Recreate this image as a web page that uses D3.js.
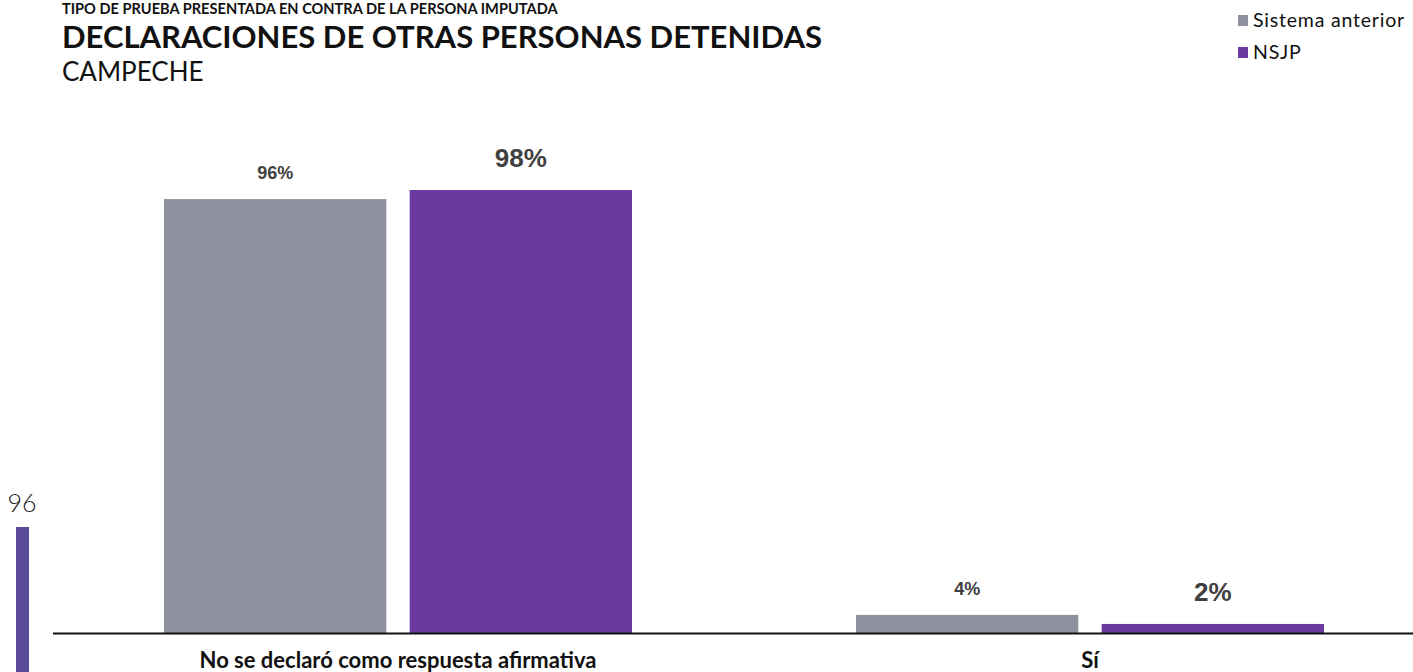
<!DOCTYPE html>
<html><head><meta charset="utf-8">
<script src="https://cdn.jsdelivr.net/npm/d3@7"></script>
<style>body{margin:0;background:#fff}svg{display:block}</style>
</head><body><svg id="c" width="1413" height="672"></svg>
<script>
const categories = ["No se declaró como respuesta afirmativa", "Sí"];
const seriesNames = ["Sistema anterior", "NSJP"];
const sistemaAnterior = [96, 4];
const nsjp = [98, 2];
const colors = ["#8e929e", "#6a3a9e"];

const svg = d3.select("#c");
const baseY = 633;
const y = d3.scaleLinear().domain([0, 100]).range([baseY, baseY - 452]);
const x0 = d3.scaleBand().domain(categories).range([52, 1436]).paddingInner(0).paddingOuter(0);
const x1 = d3.scaleBand().domain(seriesNames).range([112, 580]).paddingInner(0.095).paddingOuter(0);

const data = categories.map((c, i) => ({cat: c, vals: [sistemaAnterior[i], nsjp[i]]}));

// stray fragment
svg.append("text").attr("x", 22).attr("y", 512).attr("text-anchor", "middle")
  .attr("font-family", "Lato").attr("font-weight", 300).attr("font-size", 25).attr("fill", "#222").text("96");
svg.append("rect").attr("x", 16).attr("y", 527).attr("width", 13).attr("height", 145).attr("fill", "#5b4a9a");

const g = svg.selectAll("g.grp").data(data).enter().append("g")
  .attr("transform", d => `translate(${x0(d.cat)},0)`);
g.selectAll("rect").data(d => d.vals.map((v, j) => ({v, j}))).enter().append("rect")
  .attr("x", d => x1(seriesNames[d.j]))
  .attr("width", x1.bandwidth())
  .attr("y", d => y(d.v))
  .attr("height", d => baseY - y(d.v))
  .attr("fill", d => colors[d.j]);
g.selectAll("text.val").data(d => d.vals.map((v, j) => ({v, j}))).enter().append("text")
  .attr("x", d => x1(seriesNames[d.j]) + x1.bandwidth() / 2)
  .attr("y", d => y(d.v) - (d.j === 0 ? 20 : 23))
  .attr("text-anchor", "middle")
  .attr("font-family", "Liberation Sans, Arial").attr("font-weight", "bold")
  .attr("font-size", d => d.j === 0 ? 18 : 26)
  .attr("fill", "#404040")
  .text(d => d.v + "%");

svg.append("line").attr("x1", 53).attr("x2", 1413).attr("y1", baseY + 0.5).attr("y2", baseY + 0.5)
  .attr("stroke", "#111").attr("stroke-width", 2);

svg.selectAll("text.cat").data(categories).enter().append("text")
  .attr("x", d => x0(d) + x0.bandwidth() / 2).attr("y", 668)
  .attr("text-anchor", "middle").attr("font-family", "Lato").attr("font-weight", "bold")
  .attr("font-size", 22).attr("fill", "#111").text(d => d);

// titles
svg.append("text").attr("x", 62).attr("y", 13.5).attr("font-family", "Lato").attr("font-weight", "bold")
  .attr("font-size", 14.6).attr("fill", "#111").text("TIPO DE PRUEBA PRESENTADA EN CONTRA DE LA PERSONA IMPUTADA");
svg.append("text").attr("x", 62).attr("y", 47.5).attr("font-family", "Lato").attr("font-weight", "bold")
  .attr("font-size", 31).attr("fill", "#111").text("DECLARACIONES DE OTRAS PERSONAS DETENIDAS");
svg.append("text").attr("x", 62).attr("y", 81).attr("font-family", "Lato")
  .attr("font-size", 26).attr("fill", "#111").text("CAMPECHE");

// legend
const lg = svg.selectAll("g.leg").data(seriesNames).enter().append("g")
  .attr("transform", (d, i) => `translate(1238,${15 + i * 32})`);
lg.append("rect").attr("width", 10).attr("height", 11).attr("fill", (d, i) => colors[i]);
lg.append("text").attr("x", 15).attr("y", 12).attr("font-family", "Lato").attr("font-size", 19.5)
  .attr("letter-spacing", 0.8).attr("fill", "#111").text(d => d);
</script></body></html>
